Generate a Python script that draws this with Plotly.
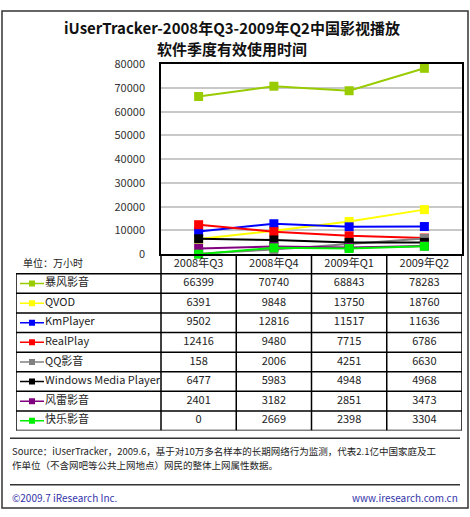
import plotly.graph_objects as go

# data
quarters = ["2008年Q3", "2008年Q4", "2009年Q1", "2009年Q2"]
players = ["暴风影音", "QVOD", "KmPlayer", "RealPlay", "QQ影音",
           "Windows Media Player", "风雷影音", "快乐影音"]
baofeng = [66399, 70740, 68843, 78283]
qvod = [6391, 9848, 13750, 18760]
kmplayer = [9502, 12816, 11517, 11636]
realplay = [12416, 9480, 7715, 6786]
qq = [158, 2006, 4251, 6630]
wmp = [6477, 5983, 4948, 4968]
fenglei = [2401, 3182, 2851, 3473]
kuaile = [0, 2669, 2398, 3304]
series = [baofeng, qvod, kmplayer, realplay, qq, wmp, fenglei, kuaile]
colors = ["#99CC00", "#FFFF00", "#0000FF", "#FF0000", "#808080",
          "#000000", "#800080", "#00EE00"]

# page layout in pixels
W, H = 470, 517
plot_l, plot_r, plot_t, plot_b = 161, 462, 57, 253
table_l, table_b = 16, 435
font = "Noto Sans CJK SC"


def fx(p):
    return p / W


def fy(p):
    return 1 - p / H


col_w = (plot_r - plot_l) / len(quarters)
x2_left = -0.5 - (plot_l - table_l) / col_w
n_rows = len(players) + 1


def px2x(p):
    return -0.5 + (p - plot_l) / col_w


fig = go.Figure()

# chart lines
for name, vals, c in zip(players, series, colors):
    fig.add_trace(go.Scatter(
        x=quarters, y=vals, mode="lines+markers", name=name,
        line=dict(color=c, width=2),
        marker=dict(symbol="square", size=9, color=c),
        xaxis="x", yaxis="y", showlegend=False, cliponaxis=False
    ))

# table: header
fig.add_trace(go.Scatter(
    x=list(range(len(quarters))), y=[0] * len(quarters), text=quarters,
    mode="text", textfont=dict(family=font, size=11, color="#222"),
    xaxis="x2", yaxis="y2", showlegend=False, hoverinfo="skip"
))

# table: rows
for r, (name, vals, c) in enumerate(zip(players, series, colors), start=1):
    fig.add_trace(go.Scatter(
        x=list(range(len(vals))), y=[r] * len(vals), text=[str(v) for v in vals],
        mode="text", textfont=dict(family=font, size=11, color="#222"),
        xaxis="x2", yaxis="y2", showlegend=False, hoverinfo="skip"
    ))
    fig.add_trace(go.Scatter(
        x=[px2x(20), px2x(44)], y=[r, r], mode="lines",
        line=dict(color=c, width=1.5),
        xaxis="x2", yaxis="y2", showlegend=False, hoverinfo="skip"
    ))
    fig.add_trace(go.Scatter(
        x=[px2x(32)], y=[r], mode="markers",
        marker=dict(symbol="square", size=6, color=c),
        xaxis="x2", yaxis="y2", showlegend=False, hoverinfo="skip"
    ))
    fig.add_trace(go.Scatter(
        x=[px2x(45)], y=[r], text=[name], mode="text", textposition="middle right",
        textfont=dict(family=font, size=11, color="#222"),
        xaxis="x2", yaxis="y2", showlegend=False, hoverinfo="skip"
    ))

shapes = []
# table grid
for k in range(1, n_rows + 1):
    shapes.append(dict(type="line", xref="x2", yref="y2", x0=x2_left, x1=3.5,
                       y0=k - 0.5, y1=k - 0.5, line=dict(color="black", width=1.5)))
for i in range(len(quarters) + 1):
    shapes.append(dict(type="line", xref="x2", yref="y2", x0=i - 0.5, x1=i - 0.5,
                       y0=-0.5, y1=n_rows - 0.5, line=dict(color="black", width=1.5)))
shapes.append(dict(type="line", xref="x2", yref="y2", x0=x2_left, x1=x2_left,
                   y0=0.5, y1=n_rows - 0.5, line=dict(color="black", width=1.5)))
# separators and frame
shapes.append(dict(type="line", xref="paper", yref="paper", x0=fx(10), x1=fx(460),
                   y0=fy(443), y1=fy(443), line=dict(color="#333", width=1.5)))
shapes.append(dict(type="line", xref="paper", yref="paper", x0=fx(10), x1=fx(460),
                   y0=fy(491), y1=fy(491), line=dict(color="#333", width=1.5)))
shapes.append(dict(type="rect", xref="paper", yref="paper", x0=fx(2), x1=fx(468),
                   y0=fy(515), y1=fy(2), line=dict(color="#333", width=1.5)))

annotations = [
    dict(text="<b>iUserTracker-2008年Q3-2009年Q2中国影视播放</b>", x=fx(232), y=fy(19),
         font=dict(family=font, size=15, color="#111")),
    dict(text="<b>软件季度有效使用时间</b>", x=fx(232), y=fy(41),
         font=dict(family=font, size=15, color="#111")),
    dict(text="单位：万小时", x=fx(21), y=fy(262), xanchor="left",
         font=dict(family=font, size=10, color="#222")),
    dict(text="Source：iUserTracker，2009.6，基于对10万多名样本的长期网络行为监测，代表2.1亿中国家庭及工",
         x=fx(10), y=fy(456), xanchor="left", font=dict(family=font, size=9.5, color="#222")),
    dict(text="作单位（不含网吧等公共上网地点）网民的整体上网属性数据。",
         x=fx(10), y=fy(471), xanchor="left", font=dict(family=font, size=9.5, color="#222")),
    dict(text="©2009.7 iResearch Inc.", x=fx(10), y=fy(504), xanchor="left",
         font=dict(family=font, size=10, color="#3333AA")),
    dict(text="www.iresearch.com.cn", x=fx(460), y=fy(504), xanchor="right",
         font=dict(family=font, size=10, color="#3333AA")),
]
for a in annotations:
    a.update(xref="paper", yref="paper", showarrow=False, yanchor="middle")
    a.setdefault("xanchor", "center")

fig.update_layout(
    width=W, height=H,
    margin=dict(l=0, r=0, t=0, b=0),
    paper_bgcolor="white", plot_bgcolor="white",
    font=dict(family=font),
    xaxis=dict(domain=[fx(plot_l), fx(plot_r)], type="category", range=[-0.5, 3.5],
               showticklabels=False, showgrid=False, showline=True, mirror=True,
               linecolor="black", linewidth=1.5, anchor="y", fixedrange=True),
    yaxis=dict(domain=[fy(plot_b), fy(plot_t)], range=[0, 80000], dtick=10000,
               tickformat="d", gridcolor="#C8C8C8", gridwidth=1.5, showline=True,
               mirror=True, linecolor="black", linewidth=1.5, zeroline=False,
               ticklabelstandoff=12, tickfont=dict(family=font, size=11, color="#333"),
               anchor="x", fixedrange=True),
    xaxis2=dict(domain=[fx(table_l), fx(plot_r)], range=[x2_left, 3.5], visible=False,
                anchor="y2", fixedrange=True),
    yaxis2=dict(domain=[fy(table_b), fy(plot_b)], range=[n_rows - 0.5, -0.5],
                visible=False, anchor="x2", fixedrange=True),
    shapes=shapes,
    annotations=annotations,
)

# the page body has a default margin; drop it so the figure fills the window
fig.write_html("out.html", config={"displayModeBar": False},
               post_script="document.body.style.margin='0';")
